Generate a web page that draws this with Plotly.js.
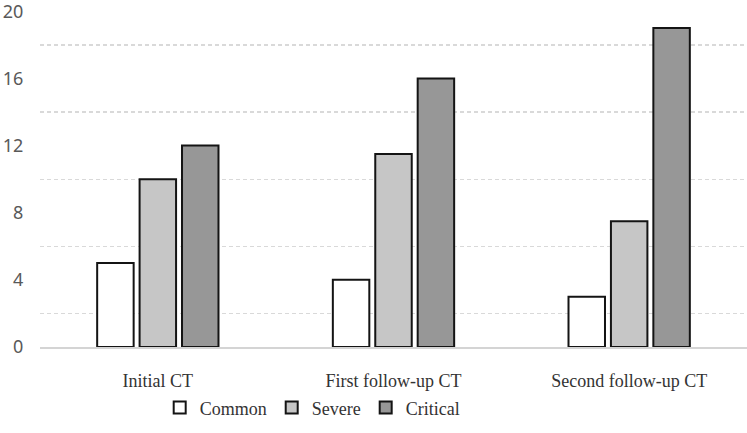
<!DOCTYPE html>
<html>
<head>
<meta charset="utf-8">
<script src="https://cdn.plot.ly/plotly-3.0.1.min.js"></script>
<style>html,body{margin:0;padding:0;background:#fff;}#chart{width:747px;height:433px;}</style>
</head>
<body>
<div id="chart"></div>
<script>
const categories = ["Initial CT", "First follow-up CT", "Second follow-up CT"];
const seriesNames = ["Common", "Severe", "Critical"];
const common = [5, 4, 3];
const severe = [10, 11.5, 7.5];
const critical = [12, 16, 19];
const yTickVals = [0, 4, 8, 12, 16, 20];
const yGridVals = [2, 6, 10, 14, 18];

const colors = ["#ffffff", "#c6c6c6", "#979797"];
const values = [common, severe, critical];
const serif = "'Liberation Serif', 'Times New Roman', serif";

const traces = values.map((v, i) => ({
  type: "bar",
  name: seriesNames[i],
  x: categories,
  y: v,
  marker: {color: colors[i], line: {color: "#141414", width: 2}},
  hoverinfo: "skip"
}));

const layout = {
  width: 747, height: 433,
  margin: {l: 40, r: 0, t: 11, b: 86},
  paper_bgcolor: "#fff", plot_bgcolor: "#fff",
  barmode: "group",
  bargap: 0.46,
  bargroupgap: 0.14,
  showlegend: true,
  legend: {
    orientation: "h",
    x: 0.385, xanchor: "center",
    y: -0.181, yanchor: "middle",
    bgcolor: "rgba(0,0,0,0)",
    font: {family: serif, size: 18, color: "#333333"},
    itemwidth: 30, tracegroupgap: 0
  },
  xaxis: {
    showline: true, linecolor: "#d4d4d4", linewidth: 1.5,
    showgrid: false, zeroline: false,
    ticks: "outside", ticklen: 17, tickcolor: "rgba(0,0,0,0)",
    tickfont: {family: serif, size: 18, color: "#333333"}
  },
  yaxis: {
    range: [0, 20.02],
    tickmode: "array", tickvals: yTickVals,
    showgrid: false, zeroline: false, showline: false,
    ticklabeloverflow: "allow",
    ticks: "outside", ticklen: 12, tickcolor: "rgba(0,0,0,0)",
    tickfont: {family: "'Noto Sans', 'DejaVu Sans', sans-serif", size: 18, color: "#595959"},
    minor: {
      tickmode: "array", tickvals: yGridVals,
      showgrid: true, gridcolor: "#d9d9d9", gridwidth: 1.2, griddash: "4px,3px",
      ticks: ""
    }
  }
};

Plotly.newPlot("chart", traces, layout, {displayModeBar: false, staticPlot: true});
</script>
</body>
</html>
